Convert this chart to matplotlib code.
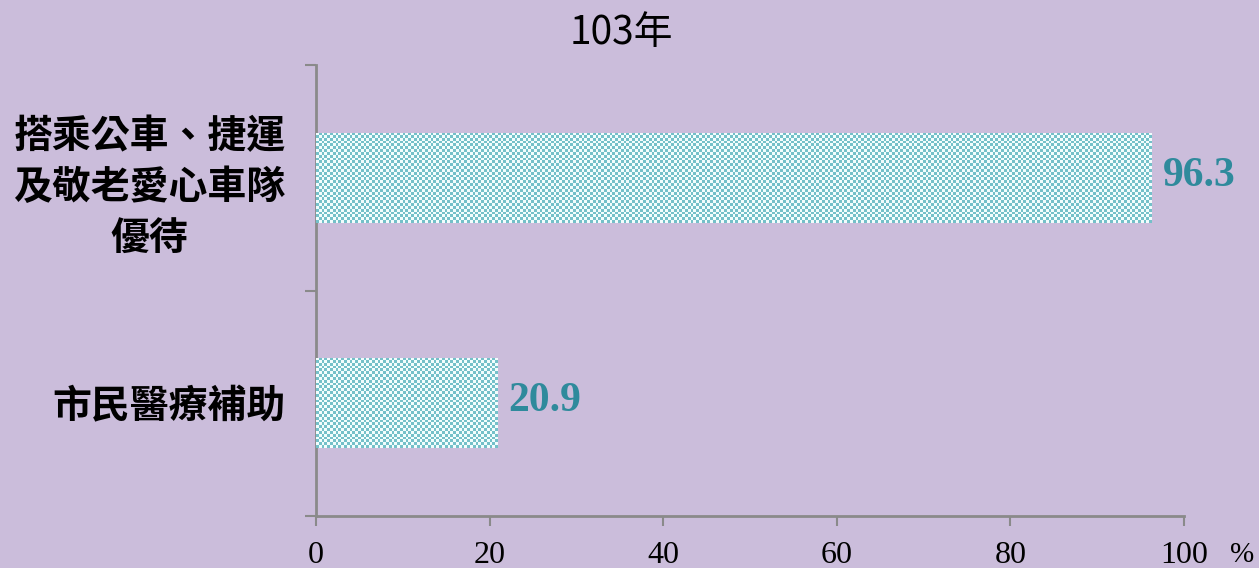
import numpy as np
import matplotlib
matplotlib.use("Agg")
import matplotlib.pyplot as plt
from matplotlib.colors import ListedColormap

categories = ["搭乘公車、捷運\n及敬老愛心車隊\n優待", "市民醫療補助"]
values = [96.3, 20.9]
xticks = [0, 20, 40, 60, 80, 100]
title = "103年"

W, H, DPI = 1259, 568, 100
fig = plt.figure(figsize=(W / DPI, H / DPI), dpi=DPI)
fig.patch.set_facecolor("#cbbddb")
ax = fig.add_axes([316 / W, 1 - 516 / H, (1184 - 316) / W, (516 - 65) / H])
ax.set_facecolor("none")

ypos = np.arange(len(categories))
ax.set_xlim(0, 100)
ax.set_ylim(len(categories) - 0.5, -0.5)
bar_h = 0.4
bars = ax.barh(ypos, values, height=bar_h, color="#bfe6ea", edgecolor="none", zorder=2)

fig.canvas.draw()
cmap = ListedColormap(["#f2fdfd", "#74c0c9"])
cell = 2.8
for b in bars:
    bb = b.get_window_extent()
    nx = max(2, int(round(bb.width / cell)))
    ny = max(2, int(round(bb.height / cell)))
    ii, jj = np.indices((ny, nx))
    tex = (ii + jj) % 2
    x0, y0, w, h = b.get_x(), b.get_y(), b.get_width(), b.get_height()
    im = ax.imshow(tex, cmap=cmap, extent=[x0, x0 + w, y0 + h, y0], aspect="auto",
                   interpolation="nearest", zorder=3)
    im.set_clip_path(b)

for y, v in zip(ypos, values):
    ax.annotate(f"{v:.1f}", xy=(v, y), xytext=(11, 2), textcoords="offset pixels",
                ha="left", va="center", fontsize=30, fontweight="bold",
                family="Liberation Serif", color="#2f8a9c")

for s in ["top", "right"]:
    ax.spines[s].set_visible(False)
for s in ["left", "bottom"]:
    ax.spines[s].set_color("#8a8a8a")
    ax.spines[s].set_linewidth(2)

ax.set_xticks(xticks)
ax.set_xticklabels([str(t) for t in xticks], family="Liberation Serif", fontsize=23)
ax.tick_params(axis="x", direction="out", length=7, width=1.5, color="#8a8a8a", pad=11)

ax.set_yticks(ypos)
ax.set_yticklabels(categories, family=["Noto Sans CJK TC", "DejaVu Sans"], fontsize=28,
                   fontweight="heavy", linespacing=1.4, multialignment="center")
ax.tick_params(axis="y", length=0, pad=22)
ax.set_yticks([-0.5, 0.5, 1.5], minor=True)
ax.tick_params(axis="y", which="minor", direction="out", length=8, width=1.5, color="#8a8a8a")

fig.text(1242 / W, 1 - 555 / H, "%", family="Liberation Serif", fontsize=21,
         ha="center", va="center")
fig.text(621 / W, 1 - 33 / H, title, family=["Noto Sans CJK TC", "DejaVu Sans"],
         fontsize=28, ha="center", va="center")

fig.savefig("out.png", dpi=DPI, facecolor=fig.get_facecolor())
